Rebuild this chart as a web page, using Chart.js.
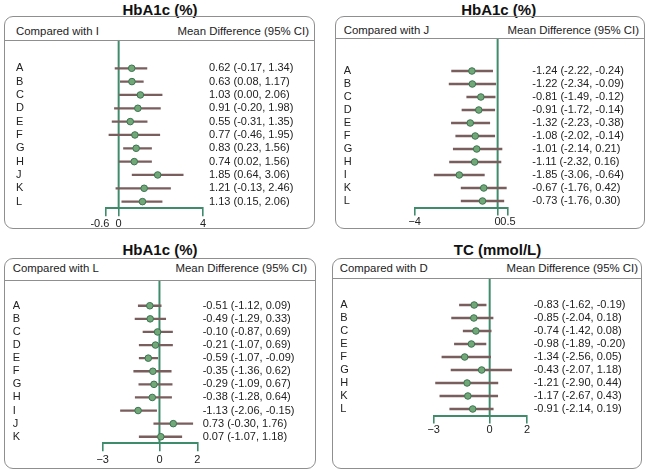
<!DOCTYPE html>
<html>
<head>
<meta charset="utf-8">
<script src="https://cdn.jsdelivr.net/npm/chart.js@4.4.1/dist/chart.umd.min.js"></script>
<style>
  body { margin: 0; background: #fff; font-family: "Liberation Sans", Arial, sans-serif; }
  #page { position: relative; width: 646px; height: 470px; overflow: hidden; }
  .title { position: absolute; font-weight: bold; font-size: 15px; color: #111; transform: translate(-50%, -50%); white-space: nowrap; }
  .box { position: absolute; border: 1px solid #8f8f8f; border-radius: 9px; box-sizing: border-box; }
  .head { position: absolute; left: 0; right: 0; top: 0; border-bottom: 1px solid #8f8f8f; }
  .head span { position: absolute; font-size: 11.4px; color: #222; transform: translateY(-50%); white-space: nowrap; }
  canvas { position: absolute; }
</style>
</head>
<body>
<div id="page"></div>
<script>
// ---- data ----
const labelsI = ['A', 'B', 'C', 'D', 'E', 'F', 'G', 'H', 'J', 'K', 'L'];
const meanI = [0.62, 0.63, 1.03, 0.91, 0.55, 0.77, 0.83, 0.74, 1.85, 1.21, 1.13];
const lowI  = [-0.17, 0.08, 0.00, -0.20, -0.31, -0.46, 0.23, 0.02, 0.64, -0.13, 0.15];
const highI = [1.34, 1.17, 2.06, 1.98, 1.35, 1.95, 1.56, 1.56, 3.06, 2.46, 2.06];
const ticksI = [-0.6, 0, 4];
const tickTextI = ['-0.6    ', '0', '4'];

const labelsJ = ['A', 'B', 'C', 'D', 'E', 'F', 'G', 'H', 'I', 'K', 'L'];
const meanJ = [-1.24, -1.22, -0.81, -0.91, -1.32, -1.08, -1.01, -1.11, -1.85, -0.67, -0.73];
const lowJ  = [-2.22, -2.34, -1.49, -1.72, -2.23, -2.02, -2.14, -2.32, -3.06, -1.76, -1.76];
const highJ = [-0.24, -0.09, -0.12, -0.14, -0.38, -0.14, 0.21, 0.16, -0.64, 0.42, 0.30];
const ticksJ = [-4, 0, 0.5];
const tickTextJ = ['\u22124', '0', '0.5'];

const labelsL = ['A', 'B', 'C', 'D', 'E', 'F', 'G', 'H', 'I', 'J', 'K'];
const meanL = [-0.51, -0.49, -0.10, -0.21, -0.59, -0.35, -0.29, -0.38, -1.13, 0.73, 0.07];
const lowL  = [-1.12, -1.29, -0.87, -1.07, -1.07, -1.36, -1.09, -1.28, -2.06, -0.30, -1.07];
const highL = [0.09, 0.33, 0.69, 0.69, -0.09, 0.62, 0.67, 0.64, -0.15, 1.76, 1.18];
const ticksL = [-3, 0, 2];
const tickTextL = ['\u22123', '0', '2'];

const labelsD = ['A', 'B', 'C', 'E', 'F', 'G', 'H', 'K', 'L'];
const meanD = [-0.83, -0.85, -0.74, -0.98, -1.34, -0.43, -1.21, -1.17, -0.91];
const lowD  = [-1.62, -2.04, -1.42, -1.89, -2.56, -2.07, -2.90, -2.67, -2.14];
const highD = [-0.19, 0.18, 0.08, -0.20, 0.05, 1.18, 0.44, 0.43, 0.19];
const ticksD = [-3, 0, 2];
const tickTextD = ['\u22123', '0', '2'];

// ---- styling ----
const FONT = '"Liberation Sans", Arial, sans-serif';
const GREEN = '#3f8c6c';
const BAR = '#7a5d5d';
const DOT = '#72a877';
const DOT_EDGE = '#3b7452';
const TEXT = '#222';

const zeroLine = {
  id: 'zeroLine',
  beforeDatasetsDraw(chart) {
    const { ctx, chartArea, scales: { x } } = chart;
    const px = x.getPixelForValue(0);
    ctx.save();
    ctx.strokeStyle = GREEN;
    ctx.lineWidth = 2;
    ctx.beginPath();
    ctx.moveTo(px, 0);
    ctx.lineTo(px, chartArea.bottom);
    ctx.stroke();
    ctx.restore();
  }
};

const fmt = v => v.toFixed(2);

// layout of each panel in page pixels
const panels = [
  {
    title: 'HbA1c (%)', titleX: 160, titleY: 8.5, left: 'Compared with I',
    box: [4, 16, 311, 213], headH: 23, headY: 30.7, headL: 11, headR: 5,
    canvas: [5, 41, 309, 187], area: [106, 203, 61.6, 208.3], textL: 16, textR: 209, tickPad: 1,
    labels: labelsI, mean: meanI, low: lowI, high: highI, ticks: ticksI, tickText: tickTextI
  },
  {
    title: 'HbA1c (%)', titleX: 498.7, titleY: 8.5, left: 'Compared with J',
    box: [335, 16, 310, 213], headH: 21, headY: 30, headL: 7.7, headR: 5,
    canvas: [336, 39, 308, 189], area: [414.7, 508, 64.5, 207.5], textL: 343.7, textR: 532.3, tickPad: 0,
    labels: labelsJ, mean: meanJ, low: lowJ, high: highJ, ticks: ticksJ, tickText: tickTextJ
  },
  {
    title: 'HbA1c (%)', titleX: 160, titleY: 248.5, left: 'Compared with L',
    box: [4, 258, 312, 211], headH: 20.5, headY: 268.3, headL: 7.7, headR: 8,
    canvas: [5, 281, 310, 187], area: [102.7, 197.3, 299.2, 443.3], textL: 12.7, textR: 202.7, tickPad: 2,
    labels: labelsL, mean: meanL, low: lowL, high: highL, ticks: ticksL, tickText: tickTextL
  },
  {
    title: 'TC (mmol/L)', titleX: 497.5, titleY: 248.5, left: 'Compared with D',
    box: [332, 258, 310, 210.5], headH: 18.8, headY: 267.7, headL: 6.7, headR: 3,
    canvas: [333, 279, 308, 188], area: [433.7, 527, 298.5, 415.5], textL: 340.3, textR: 533.7, tickPad: 0,
    labels: labelsD, mean: meanD, low: lowD, high: highD, ticks: ticksD, tickText: tickTextD
  }
];

const page = document.getElementById('page');

panels.forEach(p => {
  const t = document.createElement('div');
  t.className = 'title';
  t.style.left = p.titleX + 'px';
  t.style.top = p.titleY + 'px';
  t.textContent = p.title;
  page.appendChild(t);

  const [bx, by, bw, bh] = p.box;
  const box = document.createElement('div');
  box.className = 'box';
  Object.assign(box.style, { left: bx + 'px', top: by + 'px', width: bw + 'px', height: bh + 'px' });
  const head = document.createElement('div');
  head.className = 'head';
  head.style.height = p.headH + 'px';
  const hl = document.createElement('span');
  hl.textContent = p.left;
  hl.style.left = p.headL + 'px';
  hl.style.top = (p.headY - by - 1) + 'px';
  const hr = document.createElement('span');
  hr.textContent = 'Mean Difference (95% CI)';
  hr.style.right = p.headR + 'px';
  hr.style.top = (p.headY - by - 1) + 'px';
  head.appendChild(hl);
  head.appendChild(hr);
  box.appendChild(head);
  page.appendChild(box);

  const [cx, cy, cw, ch] = p.canvas;
  const cv = document.createElement('canvas');
  cv.width = cw; cv.height = ch;
  Object.assign(cv.style, { left: cx + 'px', top: cy + 'px', width: cw + 'px', height: ch + 'px' });
  page.appendChild(cv);

  const [al, ar, at, ab] = p.area;
  const padLeft = p.textL - cx;
  const yWidth = al - cx - padLeft;
  const padRight = 2;
  const y2Width = cw - (ar - cx) - padRight;
  const xHeight = ch - (ab - cy);
  const valueText = p.mean.map((m, i) => `${fmt(m)} (${fmt(p.low[i])}, ${fmt(p.high[i])})`);

  new Chart(cv.getContext('2d'), {
    type: 'bar',
    data: {
      labels: p.labels,
      datasets: [
        {
          type: 'line',
          data: p.mean,
          showLine: false,
          pointRadius: 3.3,
          pointBackgroundColor: DOT,
          pointBorderColor: DOT_EDGE,
          pointBorderWidth: 1,
          order: 0
        },
        {
          type: 'bar',
          data: p.low.map((lo, i) => [lo, p.high[i]]),
          backgroundColor: BAR,
          borderWidth: 0,
          barThickness: 1.6,
          order: 1
        }
      ]
    },
    options: {
      indexAxis: 'y',
      responsive: false,
      animation: false,
      layout: { padding: { left: padLeft, right: padRight, top: at - cy, bottom: 0 } },
      plugins: { legend: { display: false }, tooltip: { enabled: false } },
      scales: {
        x: {
          type: 'linear',
          min: p.ticks[0],
          max: p.ticks[p.ticks.length - 1],
          afterBuildTicks: s => { s.ticks = p.ticks.map(v => ({ value: v })); },
          afterFit: s => { s.height = xHeight; },
          ticks: {
            autoSkip: false, maxRotation: 0, padding: p.tickPad, color: TEXT,
            font: { family: FONT, size: 11 },
            callback: (v, i) => p.tickText[i]
          },
          grid: { drawOnChartArea: false, drawTicks: true, tickLength: 8, color: GREEN, lineWidth: 1.6 },
          border: { display: true, color: GREEN, width: 2 }
        },
        y: {
          type: 'category',
          offset: true,
          afterFit: s => { s.width = yWidth; },
          grid: { display: false },
          border: { display: false },
          ticks: { autoSkip: false, crossAlign: 'far', padding: 0, color: TEXT, font: { family: FONT, size: 11 } }
        },
        y2: {
          type: 'category',
          position: 'right',
          labels: valueText,
          offset: true,
          afterFit: s => { s.width = y2Width; },
          // invisible tick marks push the value column away from the plot
          grid: { display: true, drawOnChartArea: false, drawTicks: true, tickLength: p.textR - ar, color: 'rgba(0,0,0,0)' },
          border: { display: false },
          ticks: { autoSkip: false, crossAlign: 'near', padding: 0, color: TEXT, font: { family: FONT, size: 11 } }
        }
      }
    },
    plugins: [zeroLine]
  });
});
</script>
</body>
</html>
